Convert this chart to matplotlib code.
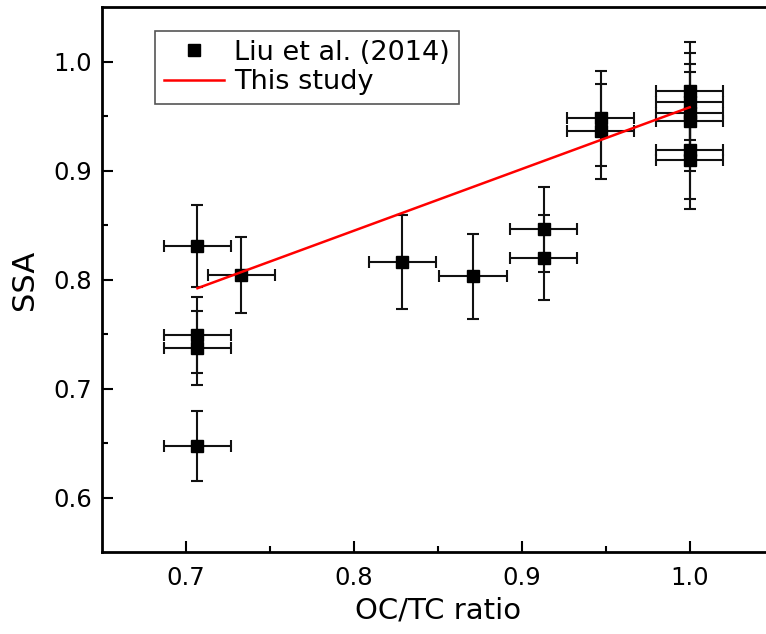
import matplotlib
matplotlib.use('Agg')
import matplotlib.pyplot as plt

# OC/TC ratio vs SSA, Liu et al. (2014) points with error bars
oc_tc = [0.707, 0.733, 0.707, 0.707, 0.707, 0.829, 0.871, 0.913, 0.913,
         0.947, 0.947, 1.0, 1.0, 1.0, 1.0, 1.0, 1.0]
ssa = [0.831, 0.804, 0.749, 0.737, 0.647, 0.816, 0.803, 0.846, 0.820,
       0.948, 0.936, 0.973, 0.963, 0.953, 0.945, 0.919, 0.910]
ssa_err = [0.0375, 0.035, 0.035, 0.034, 0.032, 0.0435, 0.039, 0.039, 0.039,
           0.0435, 0.0435, 0.045, 0.045, 0.045, 0.045, 0.045, 0.045]
oc_tc_err = [0.02] * len(oc_tc)

# fitted line from this study
fit_x = [0.707, 1.0]
fit_y = [0.792, 0.958]

plt.rcParams['font.family'] = 'DejaVu Sans'

fig = plt.figure(figsize=(7.66, 6.34), dpi=100)
ax = fig.add_axes([101.7/766, 82/634, 672/766, 545/634])

ax.errorbar(oc_tc, ssa, xerr=oc_tc_err, yerr=ssa_err, fmt='none',
            ecolor='#111111', elinewidth=1.5, capsize=4.5, capthick=1.5, zorder=2)
ax.plot(oc_tc, ssa, 's', color='black', markersize=8.5, label='Liu et al. (2014)', zorder=3)
ax.plot(fit_x, fit_y, color='red', lw=1.8, label='This study', zorder=4)

ax.set_xlim(0.65, 1.05)
ax.set_ylim(0.55, 1.05)
ax.set_xticks([0.7, 0.8, 0.9, 1.0])
ax.set_xticklabels(['0.7', '0.8', '0.9', '1.0'])
ax.set_yticks([0.6, 0.7, 0.8, 0.9, 1.0])
ax.set_yticklabels(['0.6', '0.7', '0.8', '0.9', '1.0'])
ax.set_xticks([0.75, 0.85, 0.95], minor=True)
ax.set_yticks([0.65, 0.75, 0.85, 0.95], minor=True)

ax.tick_params(which='major', direction='in', length=8, width=1.5, labelsize=17.5)
ax.tick_params(which='minor', direction='in', length=4, width=1.5)
ax.tick_params(axis='x', which='major', pad=10)
ax.tick_params(axis='y', which='major', pad=7)
for side in ['left', 'bottom', 'top']:
    ax.spines[side].set_linewidth(2)
ax.spines['right'].set_visible(False)

ax.set_xlabel('OC/TC ratio', fontsize=21, labelpad=5)
ax.set_ylabel('SSA', fontsize=22, labelpad=10)

leg = ax.legend(loc='upper left', bbox_to_anchor=(155/766, 1 - 31/634),
                bbox_transform=fig.transFigure, borderaxespad=0,
                fontsize=19.5, fancybox=False, framealpha=1, edgecolor='#555555',
                handlelength=2.2, handletextpad=0.4, labelspacing=0.12,
                borderpad=0.33)
leg.get_frame().set_linewidth(1.2)

fig.savefig('out.png', dpi=100)
